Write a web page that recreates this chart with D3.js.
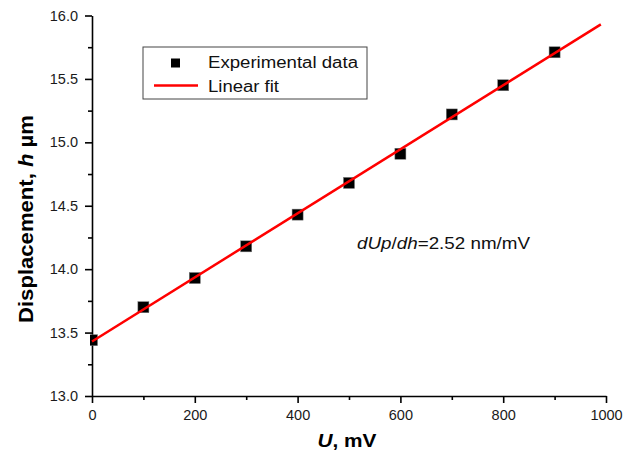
<!DOCTYPE html>
<html>
<head>
<meta charset="utf-8">
<script src="https://cdn.jsdelivr.net/npm/d3@7"></script>
<style>
	body { margin: 0; background: #fff; }
	svg { display: block; font-family: Arial, "Liberation Sans", sans-serif; }
</style>
</head>
<body>
<div id="chart"></div>
<script>
// measured points
var voltage = [0, 100, 200, 300, 400, 500, 600, 700, 800, 900];
var displacement = [13.44, 13.70, 13.93, 14.18, 14.43, 14.68, 14.91, 15.22, 15.45, 15.71];

// linear fit ends
var fitVoltage = [0, 990];
var fitDisplacement = [13.43, 15.93];

var xTicks = [0, 200, 400, 600, 800, 1000];
var xMinorTicks = [100, 300, 500, 700, 900];
var yTicks = [13.0, 13.5, 14.0, 14.5, 15.0, 15.5, 16.0];
var yMinorTicks = [13.25, 13.75, 14.25, 14.75, 15.25, 15.75];

var width = 634,
	height = 457;

var svg = d3.select("#chart")
	.append("svg")
	.attr("width", width)
	.attr("height", height);

var xScale = d3.scaleLinear()
	.domain([0, 1000])
	.range([92, 606]);

var yScale = d3.scaleLinear()
	.domain([13, 16])
	.range([396, 15.5]);

svg.append("clipPath")
	.attr("id", "plotClip")
	.append("rect")
	.attr("x", 90)
	.attr("y", 0)
	.attr("width", 540)
	.attr("height", 396);

// axes
var xAxis = d3.axisBottom(xScale)
	.tickValues(xTicks)
	.tickSizeInner(7)
	.tickSizeOuter(0)
	.tickPadding(7)
	.tickFormat(d3.format("d"));

var xMinor = d3.axisBottom(xScale)
	.tickValues(xMinorTicks)
	.tickSizeInner(4)
	.tickSizeOuter(0)
	.tickFormat("");

var yAxis = d3.axisLeft(yScale)
	.tickValues(yTicks)
	.tickSizeInner(7)
	.tickSizeOuter(0)
	.tickPadding(7)
	.tickFormat(d3.format(".1f"));

var yMinor = d3.axisLeft(yScale)
	.tickValues(yMinorTicks)
	.tickSizeInner(4)
	.tickSizeOuter(0)
	.tickFormat("");

svg.append("g")
	.attr("transform", "translate(0," + yScale(13) + ")")
	.call(xMinor)
	.select(".domain").remove();

svg.append("g")
	.attr("transform", "translate(" + xScale(0) + ",0)")
	.call(yMinor)
	.select(".domain").remove();

var xg = svg.append("g")
	.attr("class", "xAxis")
	.attr("transform", "translate(0," + yScale(13) + ")")
	.call(xAxis);

var yg = svg.append("g")
	.attr("class", "yAxis")
	.attr("transform", "translate(" + xScale(0) + ",0)")
	.call(yAxis);

svg.selectAll(".tick line, .domain")
	.style("stroke", "#000")
	.style("stroke-width", "1.6");

svg.selectAll(".tick text")
	.style("font-size", "14.5px")
	.style("fill", "#1a1a1a")
	.style("font-family", "Arial, 'Liberation Sans', sans-serif");

// axis titles
var xTitle = svg.append("text")
	.attr("x", 347)
	.attr("y", 447)
	.attr("text-anchor", "middle")
	.style("font-size", "18px")
	.style("font-weight", "bold")
	.attr("textLength", 59)
	.attr("lengthAdjust", "spacingAndGlyphs");
xTitle.append("tspan").style("font-style", "italic").text("U");
xTitle.append("tspan").text(", mV");

var yTitle = svg.append("text")
	.attr("transform", "translate(33,219) rotate(-90)")
	.attr("text-anchor", "middle")
	.style("font-size", "21px")
	.style("font-weight", "bold")
	.attr("textLength", 208)
	.attr("lengthAdjust", "spacingAndGlyphs");
yTitle.append("tspan").text("Displacement,  ");
yTitle.append("tspan").style("font-style", "italic").text("h");
yTitle.append("tspan").text("  \u00b5m");

// fit line
var line = d3.line()
	.x(function(d) { return xScale(d[0]); })
	.y(function(d) { return yScale(d[1]); });

var plot = svg.append("g").attr("clip-path", "url(#plotClip)");

var markSize = 11;
plot.selectAll("rect.point")
	.data(d3.zip(voltage, displacement))
	.enter()
	.append("rect")
	.attr("class", "point")
	.attr("x", function(d) { return xScale(d[0]) - markSize / 2; })
	.attr("y", function(d) { return yScale(d[1]) - markSize / 2; })
	.attr("width", markSize)
	.attr("height", markSize)
	.style("fill", "#000")
	.style("stroke", "#777")
	.style("stroke-width", "0.5");

plot.append("path")
	.attr("d", line(d3.zip(fitVoltage, fitDisplacement)))
	.style("fill", "none")
	.style("stroke", "#ff0000")
	.style("stroke-width", "2.5");

// legend
var legend = svg.append("g");
legend.append("rect")
	.attr("x", 143)
	.attr("y", 47)
	.attr("width", 224)
	.attr("height", 52)
	.style("fill", "#fff")
	.style("stroke", "#444")
	.style("stroke-width", "1");
legend.append("rect")
	.attr("x", 171)
	.attr("y", 58.5)
	.attr("width", 9)
	.attr("height", 9)
	.style("fill", "#000");
legend.append("line")
	.attr("x1", 154)
	.attr("x2", 198)
	.attr("y1", 85.5)
	.attr("y2", 85.5)
	.style("stroke", "#ff0000")
	.style("stroke-width", "2.5");
legend.append("text")
	.attr("x", 208)
	.attr("y", 68)
	.style("font-size", "16px")
	.style("fill", "#111")
	.attr("textLength", 150)
	.attr("lengthAdjust", "spacingAndGlyphs")
	.text("Experimental data");
legend.append("text")
	.attr("x", 208)
	.attr("y", 92)
	.style("font-size", "16px")
	.style("fill", "#111")
	.attr("textLength", 71)
	.attr("lengthAdjust", "spacingAndGlyphs")
	.text("Linear fit");

// slope annotation
var note = svg.append("text")
	.attr("x", 357)
	.attr("y", 249)
	.style("font-size", "16.5px")
	.style("fill", "#111")
	.attr("textLength", 173)
	.attr("lengthAdjust", "spacingAndGlyphs");
note.append("tspan").style("font-style", "italic").text("dUp");
note.append("tspan").text("/");
note.append("tspan").style("font-style", "italic").text("dh");
note.append("tspan").text("=2.52 nm/mV");
</script>
</body>
</html>
